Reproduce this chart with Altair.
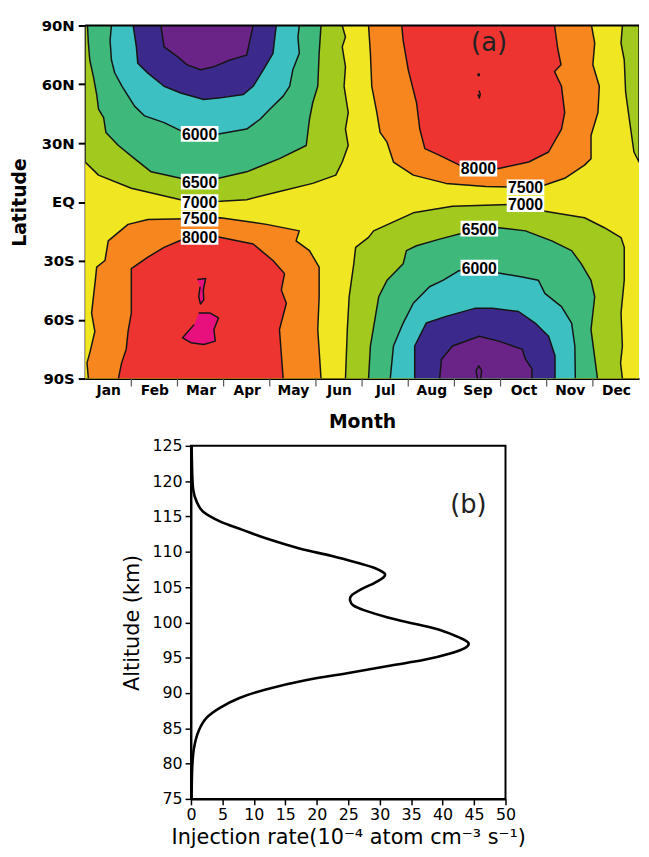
import altair as alt
import pandas as pd

# ---------------- panel (a): latitude / month contour map ----------------
months = ["Jan", "Feb", "Mar", "Apr", "May", "Jun", "Jul", "Aug", "Sep", "Oct", "Nov", "Dec"]
lat_ticks = [-90, -60, -30, 0, 30, 60, 90]

# contour boundaries as [month, latitude] vertices
nh_7000 = [[0, 90], [0, 20.4], [0.29, 13.7], [1.0, 7.0], [2.07, 1.2], [2.48, 0.2], [2.93, 0.4], [3.5, 1.2],
           [4.21, 5.4], [4.93, 9.5], [5.43, 13.7], [5.57, 20.4], [5.7, 28.8], [5.64, 37.2], [5.7, 45.6],
           [5.61, 59.0], [5.64, 69.0], [5.57, 79.1], [5.64, 84.1], [5.57, 90]]
nh_7000_dec = [[11.64, 90], [11.61, 81], [11.68, 72.4], [11.71, 56], [11.79, 42.2], [11.89, 25.5],
               [12, 20.4], [12, 90]]
sh_7000 = [[5.64, -90], [5.68, -65], [5.72, -48.3], [5.82, -31.5], [5.86, -23.1], [6.14, -18],
           [6.25, -14.7], [7.11, -5.5], [7.96, -2.2], [9.54, -1.0], [9.96, -4.7], [10.82, -8.0],
           [11.25, -13.1], [11.61, -18.1], [11.68, -23.1], [11.68, -39.9], [11.61, -56.6],
           [11.64, -73.4], [11.6, -82], [11.64, -90]]
nh_6500 = [[0.05, 90], [0.07, 81], [0.10, 72.4], [0.18, 63.8], [0.25, 54.8], [0.29, 47.3], [0.40, 43.0],
           [0.45, 35.5], [0.72, 28.8], [1.07, 22.1], [1.43, 15.4], [2.07, 12.1], [2.48, 10.4], [2.89, 12.1],
           [3.5, 15.4], [4.21, 22.1], [4.79, 28.8], [4.86, 42.2], [4.93, 50.6], [5.04, 59.0],
           [5.07, 75.8], [5.11, 90]]
sh_6500 = [[6.14, -90], [6.18, -73.4], [6.36, -48.3], [6.54, -39.9], [6.89, -31.5], [6.96, -24.8],
           [7.18, -22.3], [7.68, -18.9], [8.54, -13.6], [8.96, -13.1], [9.54, -14.7], [10.11, -19.8],
           [10.54, -24.8], [10.75, -31.5], [10.96, -39.9], [11.04, -48.3], [10.96, -65], [11.1, -90]]
nh_6000 = [[0.57, 90], [0.54, 82.4], [0.57, 72.4], [0.64, 65.9], [0.80, 59.0], [1.07, 48.9], [1.29, 43.9],
           [1.71, 40.5], [2.07, 36.4], [2.48, 34.7], [2.89, 34.7], [3.5, 37.2], [3.79, 42.2], [4.0, 47.3],
           [4.29, 54.0], [4.43, 59.0], [4.5, 67.4], [4.64, 75.8], [4.61, 84.1], [4.64, 90]]
sh_6000 = [[6.61, -90], [6.68, -73.4], [6.89, -61.7], [7.11, -51.6], [7.46, -43.2], [7.75, -39.9],
           [8.1, -35], [8.54, -33.5], [8.96, -36.2], [9.47, -38.2], [9.82, -39.9], [9.96, -46.6],
           [10.32, -53.3], [10.54, -61.7], [10.61, -73.4], [10.62, -90]]
nh_5500 = [[1.04, 90], [1.11, 79.1], [1.14, 70.7], [1.36, 65.7], [1.71, 59.0], [2.07, 55.6], [2.57, 52.3],
           [2.93, 53.1], [3.43, 54.8], [3.64, 59.0], [3.86, 67.4], [4.07, 75.8], [4.11, 84.1], [4.14, 90]]
sh_5500 = [[7.14, -90], [7.14, -73.4], [7.39, -61.7], [7.82, -58.3], [8.46, -54.1], [8.82, -54.1],
           [9.39, -55.8], [9.75, -61.7], [10.04, -68.4], [10.18, -78.4], [10.18, -90]]
nh_5000 = [[1.64, 90], [1.71, 79.1], [2.0, 74.1], [2.21, 69.9], [2.5, 67.4], [2.79, 69.0], [3.14, 72.4],
           [3.5, 74.9], [3.57, 82.4], [3.64, 90]]
sh_5000 = [[7.68, -90], [7.72, -80.1], [7.96, -73.4], [8.54, -68.4], [8.96, -70.9], [9.47, -75.1],
           [9.54, -80.1], [9.68, -85.1], [9.68, -90]]
sh_4500 = [[8.50, -90], [8.47, -86], [8.53, -83.5], [8.59, -86], [8.57, -90]]
nh_7500 = [[6.14, 90], [6.18, 75.8], [6.21, 59.0], [6.32, 45.6], [6.39, 35.5], [6.54, 30.5], [6.68, 20.4],
           [7.11, 13.7], [7.82, 9.5], [8.68, 7.9], [9.54, 7.5], [9.96, 8.7], [10.39, 12.1], [10.82, 18.8],
           [10.96, 22.1], [10.96, 33.9], [11.11, 45.6], [11.14, 59.0], [11.0, 70], [11.04, 81], [10.97, 90]]
sh_7500 = [[0.07, -90], [0.04, -82], [0.11, -76], [0.21, -66], [0.14, -56.6], [0.22, -39.9], [0.25, -33.2],
           [0.43, -29.8], [0.5, -19.8], [0.93, -11.4], [1.36, -8.9], [2.48, -8.4], [2.93, -8.0],
           [3.93, -11.4], [4.64, -14.7], [4.57, -19.8], [4.86, -24.8], [5.07, -33.2], [5.07, -48.3],
           [5.04, -65.0], [5.11, -90]]
nh_8000 = [[6.86, 90], [6.89, 82.4], [7.0, 67.4], [7.18, 50.6], [7.25, 37.2], [7.36, 27.2], [7.68, 23.8],
           [8.11, 18.8], [8.52, 17.1], [8.96, 17.1], [9.61, 20.4], [10.04, 25.5], [10.32, 37.2],
           [10.39, 45.6], [10.32, 59.0], [10.17, 66.5], [10.31, 70], [10.24, 78], [10.17, 90]]
sh_8000 = [[0.72, -90], [0.79, -82], [0.89, -75], [0.93, -66], [1.0, -56.6], [1.0, -34.0], [1.36, -28.1],
           [1.71, -23.1], [2.07, -19.5], [2.48, -17.8], [2.89, -17.8], [3.64, -21.4], [4.07, -29.8],
           [4.32, -36.5], [4.25, -44.9], [4.36, -51.6], [4.21, -65.0], [4.29, -90]]
nh_8500_a = [[8.50, 65.3], [8.54, 65.3], [8.54, 64.5], [8.50, 64.5]]
nh_8500_b = [[8.53, 56.8], [8.56, 55.0], [8.54, 53.0], [8.51, 55.0]]
sh_8500_a = [[2.43, -39.5], [2.61, -39.0], [2.56, -44.9], [2.57, -49.9], [2.5, -52.0], [2.46, -48.3],
             [2.49, -43.2]]
sh_8500_b = [[2.46, -56.6], [2.71, -56.6], [2.89, -59.1], [2.79, -65.0], [2.82, -70.9], [2.57, -72.6],
             [2.29, -71.7], [2.11, -69.2], [2.36, -62.5]]

# contour labels
label_text = ["6000", "6500", "7000", "7500", "8000", "8000", "7500", "7000", "6500", "6000"]
label_month = [2.48, 2.48, 2.48, 2.48, 2.48, 8.52, 9.54, 9.54, 8.54, 8.54]
label_lat = [34.7, 10.4, 0.0, -8.4, -17.8, 17.1, 7.5, -1.0, -13.6, -33.5]

# ---------------- panel (b): injection-rate profile ----------------
inj_rate = [0.1, 0.2, 0.37, 0.9, 1.9, 4.6, 8.2, 11.9, 17.1, 22.4, 26.6, 29.2, 30.8, 30.5, 29.2, 27.1, 25.5,
            25.3, 25.8, 27.6, 31.3, 35.5, 39.7, 42.8, 44.1, 43.6, 41.2, 37.1, 31.8, 25.5, 18.2, 11.9, 7.7,
            4.6, 2.5, 1.2, 0.5, 0.2, 0.1]
inj_alt = [125, 121.0, 118.7, 117.1, 115.7, 114.3, 113.1, 111.9, 110.5, 109.4, 108.4, 107.7, 106.9, 106.3,
           105.6, 104.7, 103.8, 103.1, 102.4, 101.7, 100.7, 99.8, 98.9, 97.8, 97.1, 96.4, 95.6, 94.7, 93.9,
           92.9, 91.8, 90.5, 89.3, 87.9, 86.5, 84.6, 82.3, 79.5, 75]

# ---------------- build tables ----------------
fills = {"lt7000": "#a2c91e", "lt6500": "#3fb87c", "lt6000": "#3cc0c1", "lt5500": "#3b2a8b",
         "lt5000": "#6a2387", "gt7500": "#f7861e", "gt8000": "#ee3431", "gt8500": "#e8107c"}
polys = [
    ("nh7000", "lt7000", nh_7000), ("nh7000dec", "lt7000", nh_7000_dec), ("sh7000", "lt7000", sh_7000),
    ("nh6500", "lt6500", nh_6500), ("sh6500", "lt6500", sh_6500),
    ("nh6000", "lt6000", nh_6000), ("sh6000", "lt6000", sh_6000),
    ("nh5500", "lt5500", nh_5500), ("sh5500", "lt5500", sh_5500),
    ("nh5000", "lt5000", nh_5000), ("sh5000", "lt5000", sh_5000), ("sh4500", "lt5000", sh_4500),
    ("nh7500", "gt7500", nh_7500), ("sh7500", "gt7500", sh_7500),
    ("nh8000", "gt8000", nh_8000), ("sh8000", "gt8000", sh_8000),
    ("nh8500a", "gt8000", nh_8500_a), ("nh8500b", "gt8000", nh_8500_b),
    ("sh8500a", "gt8500", sh_8500_a), ("sh8500b", "gt8500", sh_8500_b),
]
rows = []
for pid, lvl, pts in polys:
    for i, (m, la) in enumerate(pts):
        rows.append({"pid": pid, "lvl": lvl, "i": i, "m": m, "lat": la})
poly_df = pd.DataFrame(rows)
labels_df = pd.DataFrame({"txt": label_text, "m": label_month, "lat": label_lat})
bg_df = pd.DataFrame({"m": [0], "m2": [12], "lat": [-90], "lat2": [90]})
bound_df = pd.DataFrame({"m": list(range(1, 12))})
prof_df = pd.DataFrame({"i": list(range(len(inj_rate))), "rate": inj_rate, "alt": inj_alt})

FONT = "DejaVu Sans"
W_TOP, H_TOP = 560, 357
W_BOT, H_BOT = 318, 357

month_expr = "[" + ",".join("'%s'" % s for s in months) + "][floor(datum.value)]"


def XT():
    return alt.X("m:Q", scale=alt.Scale(domain=[0, 12], nice=False, zero=False),
                 axis=alt.Axis(values=[k + 0.5 for k in range(12)], labelExpr=month_expr, ticks=False,
                               tickSize=0, grid=False, domainColor="black", domainWidth=2,
                               labelFont=FONT, labelFontSize=14, labelFontWeight="bold", labelColor="black",
                               labelPadding=5, labelFlush=False, labelOverlap=False,
                               title="Month", titleFont=FONT, titleFontSize=19, titleFontWeight="bold",
                               titleColor="black", titlePadding=15))


def YT():
    return alt.Y("lat:Q", scale=alt.Scale(domain=[-90, 90], nice=False, zero=False),
                 axis=alt.Axis(values=lat_ticks,
                               labelExpr="datum.value == 0 ? 'EQ' : (datum.value > 0 ? datum.value + 'N' : (-datum.value) + 'S')",
                               tickSize=7, tickWidth=2, tickColor="black", grid=False,
                               domainColor="black", domainWidth=2,
                               labelFont=FONT, labelFontSize=15, labelFontWeight="bold", labelColor="black",
                               labelPadding=4, labelFlush=False, labelOverlap=False,
                               title="Latitude", titleFont=FONT, titleFontSize=19, titleFontWeight="bold",
                               titleColor="black", titlePadding=12))


layers = [alt.Chart(bg_df).mark_rect(color="#f0e622").encode(x=XT(), x2="m2", y=YT(), y2="lat2")]
for lvl in ["lt7000", "lt6500", "lt6000", "lt5500", "lt5000", "gt7500", "gt8000", "gt8500"]:
    layers.append(
        alt.Chart(poly_df).transform_filter(alt.datum.lvl == lvl)
        .mark_line(fill=fills[lvl], stroke="#151515", strokeWidth=1.5, strokeJoin="round", clip=True)
        .encode(x=XT(), y=YT(), detail="pid:N", order="i:Q")
    )
layers.append(
    alt.Chart(labels_df).mark_point(shape="M-1,-0.42L1,-0.42L1,0.42L-1,0.42Z", size=1444, filled=True,
                                    color="white", opacity=1, strokeWidth=0)
    .encode(x=XT(), y=YT())
)
layers.append(
    alt.Chart(labels_df).mark_text(font="Liberation Sans", fontSize=16, fontWeight="bold", color="black",
                                   align="center", baseline="middle", dy=1)
    .encode(x=XT(), y=YT(), text="txt:N")
)
layers.append(
    alt.Chart(pd.DataFrame({"m": [8.75], "lat": [81.0], "t": ["(a)"]}))
    .mark_text(font=FONT, fontSize=26, color="#222222", align="center", baseline="middle")
    .encode(x=XT(), y=YT(), text="t:N")
)
layers.append(
    alt.Chart(bound_df).mark_rule(color="#555555", strokeWidth=1.2)
    .encode(x=XT(), y=alt.value(H_TOP), y2=alt.value(H_TOP + 8))
)
layers.append(
    alt.Chart(bg_df).mark_rule(color="black", strokeWidth=2)
    .encode(x=alt.value(0), x2=alt.value(W_TOP), y=alt.value(0))
)

top = alt.layer(*layers).properties(width=W_TOP, height=H_TOP,
                                     view=alt.ViewBackground(stroke="transparent"))

# ---------------- bottom panel ----------------
xb = alt.X("rate:Q", scale=alt.Scale(domain=[0, 50], nice=False, zero=False),
           axis=alt.Axis(values=list(range(0, 51, 5)), tickSize=6, tickWidth=1.5, tickColor="black",
                         domainColor="black", domainWidth=2, grid=False, labelFont=FONT, labelFontSize=16,
                         labelColor="black", labelPadding=2, labelFlush=False, labelOverlap=False,
                         title="Injection rate(10\u207b\u2074 atom cm\u207b\u00b3 s\u207b\u00b9)",
                         titleFont=FONT, titleFontSize=21, titleFontWeight="normal", titleColor="black",
                         titlePadding=4))
yb = alt.Y("alt:Q", scale=alt.Scale(domain=[75, 125], nice=False, zero=False),
           axis=alt.Axis(values=list(range(75, 126, 5)), tickSize=6, tickWidth=1.5, tickColor="black",
                         domainColor="black", domainWidth=2, grid=False, labelFont=FONT, labelFontSize=16,
                         labelColor="black", labelPadding=3, labelFlush=False, labelOverlap=False,
                         title="Altitude (km)", titleFont=FONT, titleFontSize=21, titleFontWeight="normal",
                         titleColor="black", titlePadding=10))

prof = alt.Chart(prof_df).mark_line(color="black", strokeWidth=2.6, interpolate="cardinal").encode(
    x=xb, y=yb, order="i:Q")
btxt = alt.Chart(pd.DataFrame({"rate": [44.1], "alt": [116.6], "t": ["(b)"]})).mark_text(
    font=FONT, fontSize=26, color="#222222", align="center", baseline="middle").encode(x=xb, y=yb, text="t:N")
bottom = alt.layer(prof, btxt).properties(width=W_BOT, height=H_BOT,
                                          view=alt.ViewBackground(stroke="black", strokeWidth=2))

spacer = alt.Chart(pd.DataFrame({"v": [0]})).mark_point(opacity=0).encode(
    x=alt.value(0), y=alt.value(0)).properties(width=34, height=H_BOT,
                                                view=alt.ViewBackground(stroke="transparent"))

chart = alt.vconcat(top, alt.hconcat(spacer, bottom, spacing=0), spacing=5).properties(
    padding={"left": 2, "top": 5, "right": 0, "bottom": 0})

chart.save("out.html", embed_options={"renderer": "svg", "actions": False})
